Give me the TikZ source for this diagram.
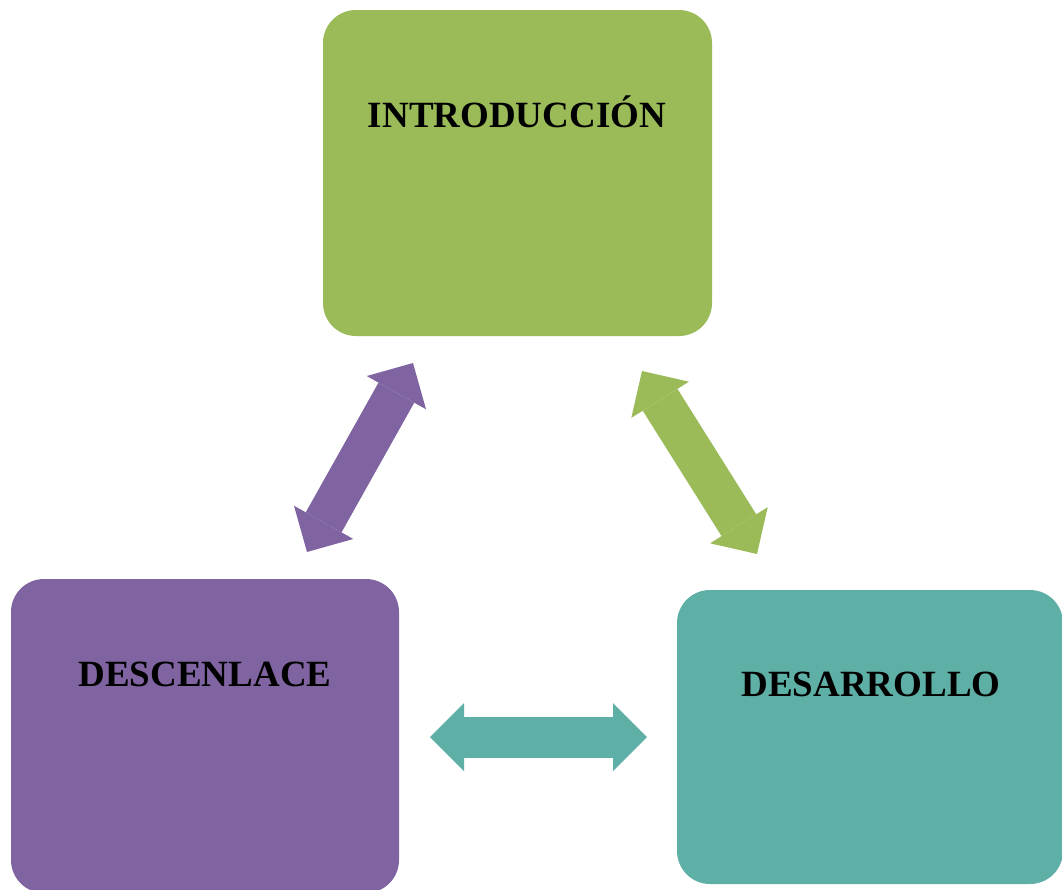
\documentclass[tikz,border=0pt]{standalone}
\usepackage{fontspec}
\setmainfont{Liberation Serif}
\usetikzlibrary{arrows.meta}
\definecolor{cgreen}{RGB}{155,187,89}
\definecolor{cpurple}{RGB}{128,100,162}
\definecolor{cteal}{RGB}{94,175,166}
\tikzset{
  box/.style={draw=none, rounded corners=33pt, inner sep=0pt},
  lbl/.style={anchor=base, inner sep=0pt, font=\fontsize{37}{44}\selectfont\bfseries, text=black},
  dblarrow/.style={line width=41pt, {Triangle[width=68pt,length=34pt,line width=0pt]}-{Triangle[width=68pt,length=34pt,line width=0pt]}}
}
\begin{document}
\begin{tikzpicture}[x=1pt,y=-1pt]
\useasboundingbox (0,0) rectangle (1062,889);
% boxes
\node[box, fill=cgreen, minimum width=389pt, minimum height=326pt] (intro) at (517.5,173) {};
\node[box, fill=cpurple, minimum width=388pt, minimum height=314pt] (desc) at (205,736) {};
\node[box, fill=cteal, minimum width=386pt, minimum height=294pt] (desa) at (870,737) {};
% labels
\node[lbl] (introtxt) at (517,127) {INTRODUCCIÓN};
\node[lbl] (desctxt) at (205,686) {DESCENLACE};
\node[lbl] (desatxt) at (871,696) {DESARROLLO};
% arrow end points
\coordinate (pa) at (307,552);
\coordinate (pb) at (413,363);
\coordinate (ga) at (642,371);
\coordinate (gb) at (757,554);
\coordinate (ta) at (430,737);
\coordinate (tb) at (647,737);
% arrows
\draw[dblarrow, color=cpurple] (pa) -- (pb);
\draw[dblarrow, color=cgreen] (ga) -- (gb);
\draw[dblarrow, color=cteal] (ta) -- (tb);
\end{tikzpicture}
\end{document}
